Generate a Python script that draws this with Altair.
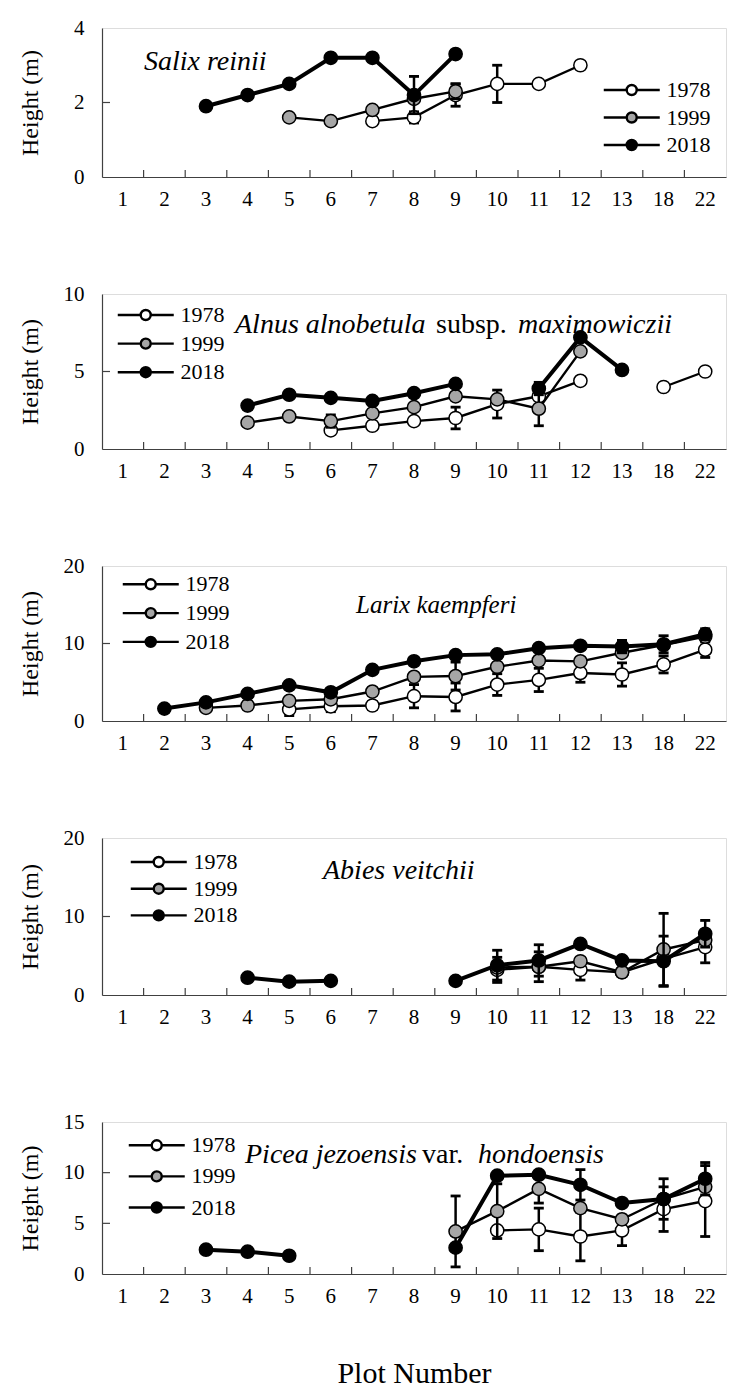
import altair as alt
import pandas as pd

N = None
PLOTS = ["1", "2", "3", "4", "5", "6", "7", "8", "9", "10", "11", "12", "13", "18", "22"]
YEARS = ["1978", "1999", "2018"]
FILLS = ["white", "#a6a6a6", "black"]

# ---------------- Salix reinii ----------------
SALIX_1978 = [N, N, N, N, N, N, 1.5, 1.6, 2.2, 2.5, 2.5, 3.0, N, N, N]
SALIX_1999 = [N, N, N, N, 1.6, 1.5, 1.8, 2.1, 2.3, N, N, N, N, N, N]
SALIX_2018 = [N, N, 1.9, 2.2, 2.5, 3.2, 3.2, 2.2, 3.3, N, N, N, N, N, N]
SALIX_1978_ERR = [N, N, N, N, N, N, N, 0.15, 0.3, 0.5, N, N, N, N, N]
SALIX_1999_ERR = [N, N, N, N, N, N, N, N, 0.2, N, N, N, N, N, N]
SALIX_2018_ERR = [N, N, N, N, N, N, N, 0.5, N, N, N, N, N, N, N]

# ---------------- Alnus alnobetula subsp. maximowiczii ----------------
ALNUS_1978 = [N, N, N, N, N, 1.2, 1.5, 1.8, 2.0, 2.9, 3.4, 4.4, N, 4.0, 5.0]
ALNUS_1999 = [N, N, N, 1.7, 2.1, 1.8, 2.3, 2.7, 3.4, 3.2, 2.6, 6.3, N, N, N]
ALNUS_2018 = [N, N, N, 2.8, 3.5, 3.3, 3.1, 3.6, 4.2, N, 3.9, 7.2, 5.1, N, N]
ALNUS_1978_ERR = [N, N, N, N, N, N, N, N, 0.7, 0.9, N, N, N, N, N]
ALNUS_1999_ERR = [N, N, N, N, N, 0.4, N, N, N, N, 1.1, N, N, N, N]
ALNUS_2018_ERR = [N, N, N, N, N, N, N, N, N, N, 0.4, N, N, N, N]

# ---------------- Larix kaempferi ----------------
LARIX_1978 = [N, N, N, N, 1.5, 1.9, 2.0, 3.2, 3.1, 4.7, 5.3, 6.2, 6.0, 7.3, 9.2]
LARIX_1999 = [N, N, 1.7, 2.0, 2.6, 2.8, 3.8, 5.7, 5.8, 7.0, 7.8, 7.7, 8.8, 9.8, 10.9]
LARIX_2018 = [N, 1.6, 2.4, 3.5, 4.6, 3.7, 6.6, 7.7, 8.5, 8.6, 9.4, 9.7, 9.6, 9.9, 11.2]
LARIX_1978_ERR = [N, N, N, N, 0.8, 0.7, 0.5, 1.5, 1.8, 1.4, 1.5, 1.2, 1.5, 1.1, 1.0]
LARIX_1999_ERR = [N, N, N, N, N, N, N, N, 1.8, N, N, N, N, N, N]
LARIX_2018_ERR = [N, N, N, N, N, N, N, N, N, N, N, N, 0.8, 1.1, 0.7]

# ---------------- Abies veitchii ----------------
ABIES_1978 = [N, N, N, N, N, N, N, N, N, 3.2, 3.6, 3.2, 2.9, 4.6, 6.1]
ABIES_1999 = [N, N, N, N, N, N, N, N, N, 3.5, 3.6, 4.3, 2.9, 5.8, 7.0]
ABIES_2018 = [N, N, N, 2.2, 1.7, 1.8, N, N, 1.8, 3.8, 4.4, 6.5, 4.4, 4.3, 7.8]
ABIES_1978_ERR = [N, N, N, N, N, N, N, N, N, 1.6, 1.9, 1.3, N, N, 2.0]
ABIES_1999_ERR = [N, N, N, N, N, N, N, N, N, N, N, N, N, 4.6, N]
ABIES_2018_ERR = [N, N, N, N, N, N, N, N, N, 1.9, 2.0, N, N, 3.2, 1.7]

# ---------------- Picea jezoensis var. hondoensis ----------------
PICEA_1978 = [N, N, N, N, N, N, N, N, N, 4.3, 4.4, 3.7, 4.3, 6.4, 7.2]
PICEA_1999 = [N, N, N, N, N, N, N, N, 4.2, 6.2, 8.4, 6.5, 5.4, 7.4, 8.6]
PICEA_2018 = [N, N, 2.4, 2.2, 1.8, N, N, N, 2.6, 9.7, 9.8, 8.8, 7.0, 7.4, 9.4]
PICEA_1978_ERR = [N, N, N, N, N, N, N, N, N, N, 2.1, 2.4, 1.5, 2.2, 3.5]
PICEA_1999_ERR = [N, N, N, N, N, N, N, N, 3.5, 2.7, 1.4, N, N, N, N]
PICEA_2018_ERR = [N, N, N, N, N, N, N, N, N, N, N, 1.5, 0.3, 2.0, 1.6]

FONT = "Liberation Serif"
AXC = "#404040"
LINE_W = {"1978": 2.4, "1999": 2.4, "2018": 4.0}

# legend symbol: a line with a circle in its middle (custom path, unit = sqrt(size)/2 px)
LEG_PATH = ("M-6.82,0L-3.54,0M-2.11,0L1.18,0"
            "M-2.11,0A0.714,0.714,0,1,1,-3.54,0A0.714,0.714,0,1,1,-2.11,0Z")


def build_df(series, errs):
    rows = []
    for year, vals, ev in zip(YEARS, series, errs):
        seg = 0
        prev = False
        for i, v in enumerate(vals):
            if v is None:
                prev = False
                continue
            if not prev:
                seg += 1
            prev = True
            e = ev[i]
            rows.append({
                "plot": PLOTS[i], "year": year, "h": v, "seg": f"{year}-{seg}",
                "err": e,
                "lo": (v - e) if e is not None else None,
                "hi": (v + e) if e is not None else None,
            })
    return pd.DataFrame(rows)


def panel(df, ymax, yvals, height, leg, titles, last=False):
    xscale = alt.Scale(type="band", domain=PLOTS, paddingInner=0, paddingOuter=0)
    xaxis = alt.Axis(
        labelFont=FONT, labelFontSize=21, labelColor="black", labelAngle=0,
        labelPadding=11, ticks=False, tickSize=0, domainColor=AXC, domainWidth=1.2,
        grid=False,
        title="Plot Number" if last else None,
        titleFont=FONT, titleFontSize=30, titleFontWeight="normal", titleColor="black",
        titleX=312, titleY=108, titleBaseline="alphabetic", titleAlign="center",
    )
    yscale = alt.Scale(domain=[0, ymax], nice=False, zero=True)
    yaxis = alt.Axis(
        values=yvals, labelFont=FONT, labelFontSize=21, labelColor="black",
        labelPadding=18, ticks=False, tickSize=0, domainColor=AXC, domainWidth=1.2,
        grid=False, title="Height (m)", titleFont=FONT, titleFontSize=24,
        titleFontWeight="normal", titleColor="black", titleX=-65, titleY=height / 2,
        titleAngle=270, titleBaseline="alphabetic", titleAlign="center",
    )

    def X(**kw):
        return alt.X("plot:O", scale=xscale, axis=xaxis, **kw)

    def Y(field):
        return alt.Y(f"{field}:Q", scale=yscale, axis=yaxis, title="Height (m)")

    legend = alt.Legend(
        title=None, orient="none", legendX=leg[0], legendY=leg[1],
        symbolType=LEG_PATH, symbolSize=196, symbolStrokeColor="black",
        symbolStrokeWidth=2.4, labelFont=FONT, labelFontSize=22, labelColor="black",
        rowPadding=leg[2], padding=0, labelOffset=4, offset=0,
    )

    layers = []
    # inward x ticks at band boundaries
    layers.append(
        alt.Chart(pd.DataFrame({"plot": PLOTS[1:]})).mark_rule(color=AXC, strokeWidth=1.2)
        .encode(x=X(bandPosition=0), y=alt.value(height), y2=alt.value(height - 7))
    )
    # inward y ticks
    layers.append(
        alt.Chart(pd.DataFrame({"v": [v for v in yvals if 0 < v < ymax]}))
        .mark_rule(color=AXC, strokeWidth=1.2)
        .encode(y=Y("v"), x=alt.value(0), x2=alt.value(8))
    )
    for year in YEARS:
        d = df[df["year"] == year]
        if d.empty:
            continue
        e = d[d["err"].notna()]
        if not e.empty:
            layers.append(
                alt.Chart(e).mark_rule(color="black", strokeWidth=2.5)
                .encode(x=X(), y=Y("lo"), y2="hi:Q")
            )
            for f in ("lo", "hi"):
                layers.append(
                    alt.Chart(e).mark_tick(color="black", size=10, thickness=2.8,
                                           orient="horizontal", opacity=1)
                    .encode(x=X(), y=Y(f))
                )
        layers.append(
            alt.Chart(d).mark_line(color="black", strokeWidth=LINE_W[year])
            .encode(x=X(), y=Y("h"), detail="seg:N")
        )
        layers.append(
            alt.Chart(d).mark_circle(size=175, stroke="black", strokeWidth=1.5, opacity=1)
            .encode(
                x=X(), y=Y("h"),
                fill=alt.Fill("year:N", scale=alt.Scale(domain=YEARS, range=FILLS),
                              legend=legend),
            )
        )
    for txt, style, tx, ty, fs in titles:
        layers.append(
            alt.Chart(pd.DataFrame({"t": [txt]}))
            .mark_text(font=FONT, fontSize=fs, fontStyle=style, align="left",
                       baseline="alphabetic", color="black")
            .encode(text="t:N", x=alt.value(tx), y=alt.value(ty))
        )
    return alt.layer(*layers).properties(width=624, height=height)


p1 = panel(build_df([SALIX_1978, SALIX_1999, SALIX_2018],
                    [SALIX_1978_ERR, SALIX_1999_ERR, SALIX_2018_ERR]),
           4, [0, 2, 4], 149, (538.5, 51, 5.5),
           [("Salix reinii", "italic", 42, 42.3, 28)])
p2 = panel(build_df([ALNUS_1978, ALNUS_1999, ALNUS_2018],
                    [ALNUS_1978_ERR, ALNUS_1999_ERR, ALNUS_2018_ERR]),
           10, [0, 5, 10], 155, (52.5, 10, 6.6),
           [("Alnus alnobetula", "italic", 133, 39.3, 28),
            ("subsp.", "normal", 334, 39.3, 28),
            ("maximowiczii", "italic", 416, 39.3, 28)])
p3 = panel(build_df([LARIX_1978, LARIX_1999, LARIX_2018],
                    [LARIX_1978_ERR, LARIX_1999_ERR, LARIX_2018_ERR]),
           20, [0, 10, 20], 155, (57.5, 7.3, 6.8),
           [("Larix kaempferi", "italic", 254, 46.6, 25)])
p4 = panel(build_df([ABIES_1978, ABIES_1999, ABIES_2018],
                    [ABIES_1978_ERR, ABIES_1999_ERR, ABIES_2018_ERR]),
           20, [0, 10, 20], 157, (65.5, 13, 4.7),
           [("Abies veitchii", "italic", 221, 40.6, 28)])
p5 = panel(build_df([PICEA_1978, PICEA_1999, PICEA_2018],
                    [PICEA_1978_ERR, PICEA_1999_ERR, PICEA_2018_ERR]),
           15, [0, 5, 10, 15], 152, (63.5, 12.3, 9.1),
           [("Picea jezoensis", "italic", 143, 40.6, 28),
            ("var.", "normal", 320, 40.6, 28),
            ("hondoensis", "italic", 376, 40.6, 28)],
           last=True)


def indep(c):
    return (c.resolve_scale(x="independent", y="independent", fill="independent")
            .resolve_axis(x="independent", y="independent")
            .resolve_legend(fill="independent"))


inner = indep(alt.vconcat(p1, p2, p3, p4, spacing=72))
chart = indep(alt.vconcat(inner, p5, spacing=82)).properties(
    padding={"top": 8, "left": 9, "right": 5, "bottom": 5}
).configure_view(stroke="#8c8c8c", strokeWidth=1).configure(background="white")

chart.save("out.html", embed_options={"renderer": "svg", "actions": False})
